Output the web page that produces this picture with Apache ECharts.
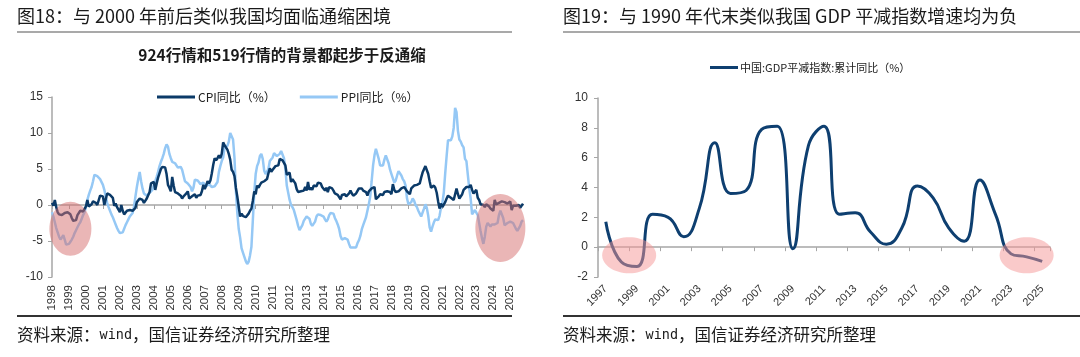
<!DOCTYPE html>
<html><head><meta charset="utf-8">
<script src="https://cdn.jsdelivr.net/npm/echarts@6/dist/echarts.min.js"></script>
<style>html,body{margin:0;padding:0;background:#fff}#c{width:1080px;height:357px}</style>
</head><body><div id="c"></div>
<script>
// ---------- data ----------
const startYear = 1998;
const cpi = [
  0.3, -0.1, 0.7, -0.3, -1.0, -1.3, -1.4, -1.4, -1.5, -1.1, -1.2, -1.0,
  -1.2, -1.3, -1.8, -2.2, -2.2, -2.1, -1.4, -1.3, -0.8, -0.6, -0.9, -1.0,
  -0.2, 0.7, -0.2, -0.3, 0.1, 0.5, 0.5, 0.3, 0.0, 0.0, 1.3, 1.5,
  1.2, 0.0, 0.8, 1.6, 1.7, 1.4, 1.5, 1.0, -0.1, 0.2, -0.3, -0.3,
  -1.0, 0.0, -0.8, -1.3, -1.1, -0.8, -0.9, -0.7, -0.7, -0.8, -0.7, -0.4,
  0.4, 0.2, 0.9, 1.0, 0.7, 0.3, 0.5, 0.9, 1.1, 1.8, 3.0, 3.2,
  3.2, 2.1, 3.0, 3.8, 4.4, 5.0, 5.3, 5.3, 5.2, 4.3, 2.8, 2.4,
  1.9, 3.9, 2.7, 1.8, 1.8, 1.6, 1.8, 1.3, 0.9, 1.2, 1.3, 1.6,
  1.9, 0.9, 0.8, 1.2, 1.4, 1.5, 1.0, 1.3, 1.5, 1.4, 1.9, 2.8,
  2.2, 2.7, 3.3, 3.0, 3.4, 4.4, 5.6, 6.5, 6.2, 6.5, 6.9, 6.5,
  7.1, 8.7, 8.3, 8.5, 7.7, 7.1, 6.3, 4.9, 4.6, 4.0, 2.4, 1.2,
  1.0, -1.6, -1.2, -1.5, -1.4, -1.7, -1.8, -1.2, -0.8, -0.5, 0.6, 1.9,
  1.5, 2.7, 2.4, 2.8, 3.1, 2.9, 3.3, 3.5, 3.6, 4.4, 5.1, 4.6,
  4.9, 4.9, 5.4, 5.3, 5.5, 6.4, 6.5, 6.2, 6.1, 5.5, 4.2, 4.1,
  4.5, 3.2, 3.6, 3.4, 3.0, 2.2, 1.8, 2.0, 1.9, 1.7, 2.0, 2.5,
  2.0, 3.2, 2.1, 2.4, 2.1, 2.7, 2.7, 2.6, 3.1, 3.2, 3.0, 2.5,
  2.5, 2.0, 2.4, 1.8, 2.5, 2.3, 2.3, 2.0, 1.6, 1.6, 1.4, 1.5,
  0.8, 1.4, 1.4, 1.5, 1.2, 1.4, 1.6, 2.0, 1.6, 1.3, 1.5, 1.6,
  1.8, 2.3, 2.3, 2.3, 2.0, 1.9, 1.8, 1.3, 1.9, 2.1, 2.3, 2.1,
  2.5, 0.8, 0.9, 1.2, 1.5, 1.5, 1.4, 1.8, 1.6, 1.9, 1.7, 1.8,
  1.5, 2.9, 2.1, 1.8, 1.8, 1.9, 2.1, 2.3, 2.5, 2.5, 2.2, 1.9,
  1.7, 1.5, 2.3, 2.5, 2.7, 2.7, 2.8, 2.8, 3.0, 3.8, 4.5, 4.5,
  5.4, 5.2, 4.3, 3.3, 2.4, 2.5, 2.7, 2.4, 1.7, 0.5, -0.5, 0.2,
  -0.3, -0.2, 0.4, 0.9, 1.3, 1.1, 1.0, 0.8, 0.7, 1.5, 2.3, 1.5,
  0.9, 0.9, 1.5, 2.1, 2.1, 2.5, 2.7, 2.5, 2.8, 2.1, 1.6, 1.8,
  2.1, 1.0, 0.7, 0.1, 0.2, 0.0, -0.3, 0.1, 0.0, -0.2, -0.5, -0.3,
  -0.8, 0.7, 0.1, 0.3, 0.3, 0.2, 0.5, 0.6, 0.4, 0.3, 0.2, 0.1,
  0.5, -0.7, -0.1, -0.1, -0.1, 0.1, 0.0, -0.4, -0.3, 0.2
];
const ppi = [
  -1.0, -1.6, -2.4, -3.2, -3.8, -4.4, -4.8, -4.9, -4.2, -4.8, -5.5, -5.7,
  -5.4, -5.1, -4.8, -4.4, -3.9, -3.5, -3.1, -2.7, -2.4, -1.9, -1.4, -1.0,
  -0.3, 0.7, 1.4, 2.0, 2.5, 3.3, 4.2, 4.4, 4.0, 3.8, 3.6, 3.4,
  2.8, 2.1, 1.2, 0.3, -0.3, -0.8, -1.3, -1.7, -2.2, -2.7, -3.2, -3.6,
  -3.9, -4.1, -3.8, -3.3, -2.8, -2.4, -2.0, -1.6, -1.4, -1.1, -0.2, 1.2,
  2.5, 3.6, 4.6, 3.3, 2.3, 1.6, 1.4, 1.3, 1.4, 1.7, 1.9, 2.1,
  2.8, 3.3, 3.9, 4.6, 5.4, 6.0, 6.5, 7.1, 7.9, 8.4, 8.1, 7.1,
  6.5, 6.0, 5.8, 5.8, 5.9, 5.2, 5.2, 5.3, 4.9, 4.1, 3.3, 3.2,
  3.0, 3.0, 2.5, 1.9, 2.4, 3.5, 3.6, 3.4, 3.5, 2.9, 2.8, 3.1,
  3.3, 2.6, 2.7, 2.9, 2.8, 2.5, 2.4, 2.6, 2.7, 3.2, 4.6, 5.4,
  6.1, 6.6, 8.0, 8.1, 8.2, 8.8, 10.0, 10.1, 9.1, 6.6, 2.0, -1.1,
  -3.3, -4.5, -6.0, -6.6, -7.2, -7.8, -8.2, -7.9, -7.0, -5.8, -2.1, 1.7,
  4.3, 5.4, 5.9, 6.8, 7.1, 6.4, 4.8, 4.3, 4.3, 5.0, 6.1, 5.9,
  6.6, 7.2, 7.3, 6.8, 6.8, 7.1, 7.5, 7.3, 6.5, 5.0, 2.7, 1.7,
  0.7, 0.0, -0.3, -0.7, -1.4, -2.1, -2.9, -3.5, -3.6, -2.8, -2.2, -1.9,
  -1.6, -1.6, -1.9, -2.6, -2.9, -2.7, -2.3, -1.6, -1.3, -1.5, -1.4, -1.4,
  -1.6, -2.0, -2.3, -2.0, -1.4, -1.1, -0.9, -1.2, -1.8, -2.2, -2.7, -3.3,
  -4.3, -4.8, -4.6, -4.6, -4.6, -4.8, -5.4, -5.9, -5.9, -5.9, -5.9, -5.9,
  -5.3, -4.9, -4.3, -3.4, -2.8, -2.6, -1.7, -0.8, 0.1, 1.2, 3.3, 5.5,
  6.9, 7.8, 7.6, 6.4, 5.5, 5.5, 5.5, 6.3, 6.9, 6.9, 5.8, 4.9,
  4.3, 3.7, 3.1, 3.4, 4.1, 4.7, 4.6, 4.1, 3.6, 3.3, 2.7, 0.9,
  0.1, 0.1, 0.4, 0.9, 0.6, 0.0, -0.3, -0.8, -1.2, -1.6, -1.4, -0.5,
  0.1, -0.4, -1.5, -3.1, -3.7, -3.0, -2.4, -2.0, -2.1, -2.1, -1.5, -0.4,
  0.3, 1.7, 4.4, 6.8, 9.0, 8.8, 9.0, 9.5, 10.7, 13.5, 12.9, 10.3,
  9.1, 8.8, 8.3, 8.0, 6.4, 6.1, 4.2, 2.3, 0.9, -1.3, -1.3, -0.7,
  -0.8, -1.4, -2.5, -3.6, -4.6, -5.4, -4.4, -3.0, -2.5, -2.6, -3.0, -2.7,
  -2.5, -2.7, -2.8, -2.5, -1.4, -0.8, -0.8, -1.8, -2.8, -2.9, -2.5, -2.3,
  -2.3, -2.2, -2.5, -2.7, -3.3, -3.6, -3.6, -2.9, -2.3, -2.1
];
const months = cpi.map((_, i) => (startYear + Math.floor(i / 12)) + '-' + String(i % 12 + 1).padStart(2, '0'));

const gdpYears = ['1997','1998','1999','2000','2001','2002','2003','2004','2005','2006','2007','2008','2009','2010','2011','2012','2013','2014','2015','2016','2017','2018','2019','2020','2021','2022','2023','2024','2025'];
const gdpDeflator = [1.7, -1.0, -1.3, 2.2, 2.0, 0.7, 2.6, 7.0, 3.6, 3.8, 7.9, 8.1, -0.1, 6.8, 8.1, 2.2, 2.3, 1.0, 0.2, 1.3, 4.1, 3.3, 1.3, 0.4, 4.5, 2.2, -0.45, -0.65, -0.95];

const leftYAxis = {min: -10, max: 15, interval: 5};
const rightYAxis = {min: -2, max: 10, interval: 2};

// ---------- chart ----------
const CJK = 'Noto Sans CJK SC, sans-serif';
const NUM = 'Liberation Sans, Arial, sans-serif';
const MONO = 'DejaVu Sans Mono, monospace';
const AXIS_GRAY = '#a6a6a6';
const chart = echarts.init(document.getElementById('c'), null, {renderer: 'canvas'});

const option = {
  animation: false,
  backgroundColor: '#fff',
  grid: [
    {left: 52, right: 557, top: 97, bottom: 80},
    {left: 598, right: 30, top: 98, bottom: 80}
  ],
  legend: [
    {data: ['CPI同比（%）', 'PPI同比（%）'], left: 152, top: 86, icon: 'rect', itemWidth: 38, itemHeight: 3, itemGap: 24,
     textStyle: {fontSize: 12, color: '#222', fontFamily: CJK, padding: [0, 0, 0, -2]}},
    {data: ['中国:GDP平减指数:累计同比（%）'], left: 705, top: 57, icon: 'rect', itemWidth: 28, itemHeight: 3,
     textStyle: {fontSize: 11, color: '#222', fontFamily: CJK, padding: [0, 0, 0, -3]}}
  ],
  xAxis: [
    {gridIndex: 0, type: 'category', data: months, boundaryGap: false, position: 'bottom',
      axisLine: {show: false, onZero: false}, axisTick: {show: false}, splitLine: {show: false},
      axisLabel: {interval: (i) => i % 12 === 0, rotate: 90, formatter: (v) => v.slice(0, 4),
        fontSize: 11.5, color: '#333', fontFamily: NUM, margin: 8}},
    {gridIndex: 0, type: 'category', data: months, boundaryGap: false, position: 'bottom',
      axisLine: {show: true, onZero: true, lineStyle: {color: AXIS_GRAY, width: 1.5}},
      axisTick: {show: true, interval: (i) => i % 12 === 0, length: 4, lineStyle: {color: AXIS_GRAY}},
      axisLabel: {show: false}, splitLine: {show: false}},
    {gridIndex: 1, type: 'category', data: gdpYears, boundaryGap: true, position: 'bottom',
      axisLine: {show: false, onZero: false}, axisTick: {show: false}, splitLine: {show: false},
      axisLabel: {interval: 1, rotate: 45, fontSize: 11, color: '#333', fontFamily: NUM, margin: 10}},
    {gridIndex: 1, type: 'category', data: gdpYears, boundaryGap: true, position: 'bottom',
      axisLine: {show: true, onZero: true, lineStyle: {color: AXIS_GRAY, width: 1.5}},
      axisTick: {show: true, interval: 1, length: 4, lineStyle: {color: AXIS_GRAY}},
      axisLabel: {show: false}, splitLine: {show: false}}
  ],
  yAxis: [
    {gridIndex: 0, type: 'value', min: leftYAxis.min, max: leftYAxis.max, interval: leftYAxis.interval,
      axisLine: {show: true, lineStyle: {color: AXIS_GRAY, width: 1.5}},
      axisTick: {show: true, length: 4, lineStyle: {color: AXIS_GRAY}},
      splitLine: {show: false}, axisLabel: {fontSize: 12, color: '#333', fontFamily: NUM, margin: 9}},
    {gridIndex: 1, type: 'value', min: rightYAxis.min, max: rightYAxis.max, interval: rightYAxis.interval,
      axisLine: {show: true, lineStyle: {color: AXIS_GRAY, width: 1.5}},
      axisTick: {show: true, length: 4, lineStyle: {color: AXIS_GRAY}},
      splitLine: {show: false}, axisLabel: {fontSize: 12, color: '#333', fontFamily: NUM, margin: 10}}
  ],
  series: [
    {type: 'line', name: 'PPI同比（%）', xAxisIndex: 0, yAxisIndex: 0, data: ppi, symbol: 'none', z: 2,
      lineStyle: {color: '#95c8f5', width: 2.5}, itemStyle: {color: '#95c8f5'}},
    {type: 'line', name: 'CPI同比（%）', xAxisIndex: 0, yAxisIndex: 0, data: cpi, symbol: 'none', z: 3,
      lineStyle: {color: '#0b3a68', width: 2.5}, itemStyle: {color: '#0b3a68'}},
    {type: 'line', name: '中国:GDP平减指数:累计同比（%）', xAxisIndex: 2, yAxisIndex: 1, data: gdpDeflator,
      symbol: 'none', smooth: 0.5, z: 3,
      lineStyle: {color: '#0e3f70', width: 3}, itemStyle: {color: '#0e3f70'}}
  ]
};
chart.setOption(option);

// ---------- annotations ----------
const px = (xi, yi, pt) => chart.convertToPixel({xAxisIndex: xi, yAxisIndex: yi}, pt);
const e1 = px(0, 0, ['1999-02', -3.3]);
const e2 = px(0, 0, ['2024-06', -3.2]);
const r1a = px(2, 1, ['1998', -0.55]), r1b = px(2, 1, ['1999', -0.55]);
const r2 = px(2, 1, ['2024', -0.55]);
const hline = (x1, x2, y, w, c) => ({type: 'line', shape: {x1, y1: y, x2, y2: y}, style: {stroke: c, lineWidth: w}, z: 10});
const txt = (x, y, text, size, opts) => ({type: 'text', x, y, z: 10,
  style: Object.assign({text, fontSize: size, fontFamily: CJK, fill: '#1a1a1a', textVerticalAlign: 'middle'}, opts || {})});
const source = (x) => ({type: 'text', x, y: 335, z: 10, style: {
  text: '{a|资料来源：}{m|wind}{a|，国信证券经济研究所整理}', textVerticalAlign: 'middle',
  rich: {a: {fontSize: 16.5, fontFamily: CJK, fill: '#1a1a1a'}, m: {fontSize: 13.5, fontFamily: MONO, fill: '#1a1a1a'}}}});
const ell = (c, rx, ry, fill) => ({type: 'ellipse', shape: {cx: c[0], cy: c[1], rx, ry}, style: {fill}, z: 100, silent: true});

chart.setOption({graphic: [
  txt(17, 16, '图18：与 2000 年前后类似我国均面临通缩困境', 18),
  txt(563, 16, '图19：与 1990 年代末类似我国 GDP 平减指数增速均为负', 18),
  hline(17, 512, 32, 1.2, '#555'),
  hline(563, 1080, 32, 1.2, '#555'),
  txt(282, 55, '924行情和519行情的背景都起步于反通缩', 15.5, {textAlign: 'center', fontWeight: 'bold'}),
  hline(17, 512, 316, 1.8, '#333'),
  hline(563, 1080, 316, 1.8, '#333'),
  source(17),
  source(563),
  ell(e1, 21, 27, 'rgba(214,110,110,0.5)'),
  ell(e2, 25, 34, 'rgba(214,110,110,0.5)'),
  ell([(r1a[0] + r1b[0]) / 2, r1a[1]], 27, 18, 'rgba(245,150,150,0.5)'),
  ell(r2, 27, 18, 'rgba(245,150,150,0.5)')
]});
</script></body></html>
